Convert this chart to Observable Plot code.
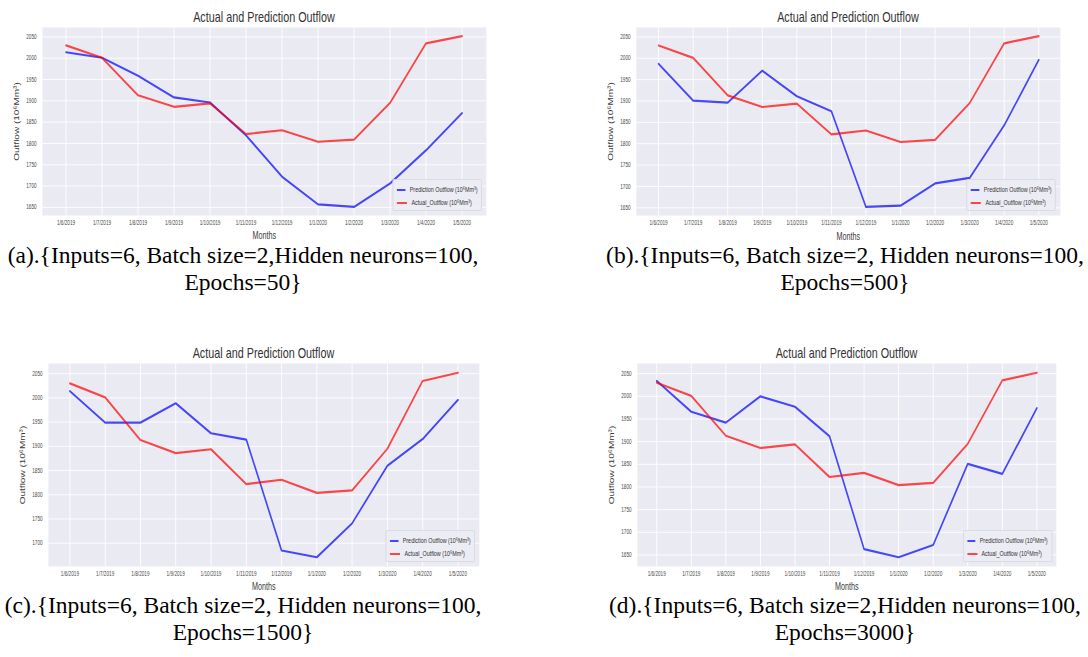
<!DOCTYPE html>
<html><head><meta charset="utf-8">
<script src="https://cdn.jsdelivr.net/npm/d3@7"></script>
<script src="https://cdn.jsdelivr.net/npm/@observablehq/plot@0.6"></script>
<style>
html,body{margin:0;padding:0;background:#fff;overflow:hidden;}
#root{position:relative;width:1088px;height:657px;overflow:hidden;}
.panel{position:absolute;transform-origin:0 0;}
.panel svg{position:absolute;left:0;overflow:visible;}
.ptitle{position:absolute;text-align:center;font-family:"Liberation Sans",Arial,sans-serif;font-size:15px;color:#333;line-height:16px;white-space:nowrap;}
.legend{position:absolute;box-sizing:border-box;background:rgba(236,236,244,0.9);border:1px solid #d8d8e0;border-radius:2px;font-family:"Liberation Sans",Arial,sans-serif;font-size:7.5px;color:#333;padding:3px 5px;white-space:nowrap;}
.legend .row{display:flex;align-items:center;height:13px;}
.legend .sw{width:14px;height:0;border-top:2px solid;margin-right:6px;}
.caption{position:absolute;font-family:"Liberation Serif","Times New Roman",serif;font-size:23.5px;line-height:27px;text-align:center;white-space:pre;color:#000;}
g[aria-label="x-axis label"] text, g[aria-label="y-axis label"] text{font-size:10px;fill:#3a3a3a;}
</style>
</head><body>
<div id="root"></div>
<script>
const months = ["1/6/2019","1/7/2019","1/8/2019","1/9/2019","1/10/2019","1/11/2019","1/12/2019","1/1/2020","1/2/2020","1/3/2020","1/4/2020","1/5/2020"];
const actual = [2030, 2001, 1913, 1886, 1894, 1822, 1831, 1804, 1809, 1895, 2035, 2052];
const predA = [2014, 2001, 1959, 1908, 1896, 1819, 1722, 1657, 1651, 1706, 1784, 1871];
const predB = [1987, 1901, 1896, 1971, 1911, 1876, 1652, 1655, 1707, 1720, 1843, 1996];
const predC = [2014, 1949, 1949, 1989, 1927, 1914, 1685, 1671, 1741, 1860, 1915, 1996];
const predD = [2034, 1966, 1942, 2000, 1977, 1912, 1663, 1645, 1672, 1851, 1829, 1974];
const yTicksFull = [1650, 1700, 1750, 1800, 1850, 1900, 1950, 2000, 2050];
const yTicksC = [1700, 1750, 1800, 1850, 1900, 1950, 2000, 2050];
const titleText = "Actual and Prediction Outflow";
const yLabel = "Outflow (10⁶Mm³)";
const xLabel = "Months";
const legendPred = "Prediction Outflow (10⁶Mm³)";
const legendActual = "Actual_Outflow (10⁶Mm³)";
const captions = [
  "(a).{Inputs=6, Batch size=2,Hidden neurons=100,\nEpochs=50}",
  "(b).{Inputs=6, Batch size=2, Hidden neurons=100,\nEpochs=500}",
  "(c).{Inputs=6, Batch size=2, Hidden neurons=100,\nEpochs=1500}",
  "(d).{Inputs=6, Batch size=2,Hidden neurons=100,\nEpochs=3000}"
];

const root = document.getElementById("root");
const k = 0.72;

function panel(cfg) {
  const {pred, fl, fr, ft, fb, yTicks} = cfg;
  const leftR = fl - 44, topR = ft - 27;
  const ml = 44 / k, mr = 12, mt = 5, mb = 28;
  const fw = (fr - fl) / k;
  const width = ml + fw + mr;
  const height = (fb - ft) + mt + mb;
  const data = months.map((m, i) => ({month: m, pred: pred[i], actual: actual[i]}));
  const [lo, hi] = d3.extent(pred.concat(actual));
  const pad = (hi - lo) * 0.05;
  const svg = Plot.plot({
    width, height, marginLeft: ml, marginRight: mr, marginTop: mt, marginBottom: mb,
    style: {fontFamily: "'Liberation Sans', Arial, sans-serif", fontSize: "6.5px", color: "#4a4a4a", background: "transparent"},
    x: {type: "point", domain: months, padding: 0.55},
    y: {domain: [lo - pad, hi + pad]},
    marks: [
      Plot.frame({fill: "#eaeaf2", stroke: null}),
      Plot.gridX({stroke: "#ffffff", strokeOpacity: 1, strokeWidth: 1.2}),
      Plot.gridY(yTicks, {stroke: "#ffffff", strokeOpacity: 1, strokeWidth: 1}),
      Plot.axisX({tickSize: 0, tickPadding: 5, label: xLabel, labelAnchor: "center", labelOffset: 24, labelArrow: "none"}),
      Plot.axisY(yTicks, {tickSize: 0, tickPadding: 8, tickFormat: "d", label: yLabel, labelAnchor: "center", labelOffset: 40, labelArrow: "none"}),
      Plot.line(data, {x: "month", y: "pred", stroke: "blue", strokeOpacity: 0.7, strokeWidth: 2.2}),
      Plot.line(data, {x: "month", y: "actual", stroke: "red", strokeOpacity: 0.7, strokeWidth: 2.2})
    ]
  });
  const div = document.createElement("div");
  div.className = "panel";
  div.style.left = leftR + "px";
  div.style.top = topR + "px";
  div.style.width = width + "px";
  div.style.height = (height + 22) + "px";
  div.style.transform = `scaleX(${k})`;
  svg.style.top = "22px";
  div.appendChild(svg);
  const t = document.createElement("div");
  t.className = "ptitle";
  t.style.left = ml + "px"; t.style.width = fw + "px"; t.style.top = "9px";
  t.textContent = titleText;
  div.appendChild(t);
  const lg = document.createElement("div");
  lg.className = "legend";
  const lw = 124, lh = 32;
  lg.style.width = lw + "px"; lg.style.height = lh + "px";
  lg.style.left = (ml + fw - 4 / k - lw) + "px";
  lg.style.top = (22 + mt + (fb - ft) - 4 - lh) + "px";
  [[legendPred, "rgba(0,0,255,0.7)"], [legendActual, "rgba(255,0,0,0.7)"]].forEach(([txt, col]) => {
    const r = document.createElement("div"); r.className = "row";
    const s = document.createElement("span"); s.className = "sw"; s.style.borderTopColor = col;
    const tx = document.createElement("span"); tx.textContent = txt;
    r.appendChild(s); r.appendChild(tx); lg.appendChild(r);
  });
  div.appendChild(lg);
  root.appendChild(div);
}

panel({pred: predA, fl: 42, fr: 486, ft: 27, fb: 215, yTicks: yTicksFull});
panel({pred: predB, fl: 636, fr: 1060, ft: 27, fb: 215, yTicks: yTicksFull});
panel({pred: predC, fl: 48, fr: 479, ft: 363, fb: 566, yTicks: yTicksC});
panel({pred: predD, fl: 637, fr: 1056, ft: 363, fb: 566, yTicks: yTicksFull});

const capPos = [[243, 242], [845, 242], [243, 592], [845, 592]];
captions.forEach((c, i) => {
  const d = document.createElement("div");
  d.className = "caption";
  d.style.left = (capPos[i][0] - 270) + "px";
  d.style.width = "540px";
  d.style.top = capPos[i][1] + "px";
  d.textContent = c;
  root.appendChild(d);
});
</script>
</body></html>
